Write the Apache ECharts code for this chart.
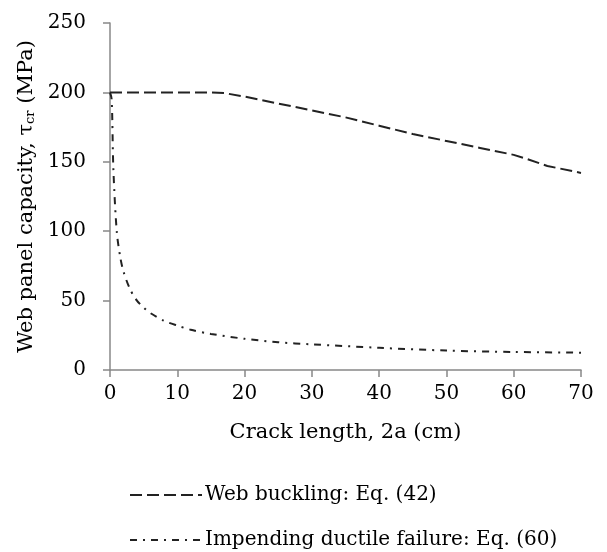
<!DOCTYPE html>
<html>
<head>
<meta charset="utf-8">
<script src="https://cdn.jsdelivr.net/npm/echarts@6/dist/echarts.min.js"></script>
<style>html,body{margin:0;padding:0;background:#fff}#c{width:607px;height:552px}</style>
</head>
<body>
<div id="c"></div>
<script>
const bucklingX = [0, 5, 10, 15, 17, 20, 25, 30, 35, 40, 45, 50, 55, 60, 62, 65, 70];
const bucklingY = [200, 200, 200, 200, 199.5, 197, 192, 187, 182, 176, 170, 165, 160, 155, 152, 147, 142];
const ductileX = [0, 0.25, 0.5, 1, 1.5, 2, 3, 4, 5, 6, 8, 10, 12, 15, 20, 25, 30, 40, 50, 60, 70];
const ductileY = [200, 195, 145, 100, 82, 71, 58, 50, 45, 41, 35.5, 32, 29, 26, 22.5, 20, 18.5, 16, 14, 13, 12.5];
const seriesNames = ['Web buckling: Eq. (42)', 'Impending ductile failure: Eq. (60)'];
const xTitle = 'Crack length, 2a (cm)';

const font = 'DejaVu Serif';
const fsTick = 20;
const fsTitle = 21;
const fsLegend = 20;
const zip = (xs, ys) => xs.map((x, i) => [x, ys[i]]);
const legendBase = {
  orient: 'horizontal', left: 124,
  itemWidth: 72, itemHeight: 14,
  itemStyle: {opacity: 0},
  textStyle: {fontFamily: font, fontSize: fsLegend, color: '#000', padding: [0, 0, 0, -2]}
};
const chart = echarts.init(document.getElementById('c'), null, {renderer: 'canvas'});
chart.setOption({
  animation: false,
  backgroundColor: '#fff',
  grid: {left: 110, right: 26, top: 23, bottom: 182},
  xAxis: {
    type: 'value', min: 0, max: 70, interval: 10,
    name: xTitle, nameLocation: 'middle', nameGap: 52,
    nameTextStyle: {fontFamily: font, fontSize: fsTitle, color: '#000'},
    axisLine: {lineStyle: {color: '#888', width: 1.5}},
    axisTick: {length: 7, lineStyle: {color: '#888', width: 1.5}},
    axisLabel: {fontFamily: font, fontSize: fsTick, color: '#000', margin: 14},
    splitLine: {show: false}
  },
  yAxis: {
    type: 'value', min: 0, max: 250, interval: 50,
    name: 'Web panel capacity, τ{sub|cr} (MPa)', nameLocation: 'middle', nameGap: 70,
    nameTextStyle: {fontFamily: font, fontSize: fsTitle, color: '#000',
      rich: {sub: {fontFamily: font, fontSize: 13, color: '#000', verticalAlign: 'bottom', padding: [8, 0, 0, 0]}}},
    axisLine: {show: true, lineStyle: {color: '#888', width: 1.5}},
    axisTick: {show: true, length: 7, lineStyle: {color: '#888', width: 1.5}},
    axisLabel: {fontFamily: font, fontSize: fsTick, color: '#000', margin: 24},
    splitLine: {show: false}
  },
  legend: [
    Object.assign({}, legendBase, {top: 480, data: [seriesNames[0]]}),
    Object.assign({}, legendBase, {top: 525, data: [seriesNames[1]]})
  ],
  series: [
    {
      name: seriesNames[0], type: 'line', data: zip(bucklingX, bucklingY),
      showSymbol: false, symbol: 'none', smooth: false,
      lineStyle: {color: '#222', width: 2, type: [12, 5]},
      itemStyle: {color: '#222'}
    },
    {
      name: seriesNames[1], type: 'line', data: zip(ductileX, ductileY),
      showSymbol: false, symbol: 'none', smooth: 0.3,
      lineStyle: {color: '#222', width: 2, type: [7, 6, 2, 6]},
      itemStyle: {color: '#222'}
    }
  ]
});
</script>
</body>
</html>
